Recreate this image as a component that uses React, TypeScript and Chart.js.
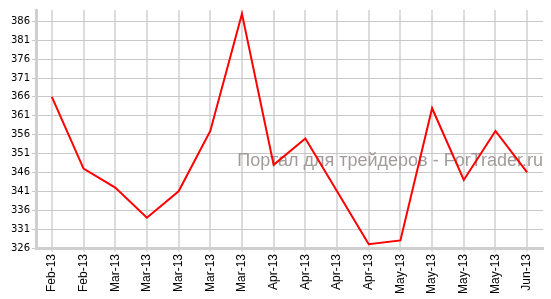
import React, { useEffect, useRef } from "react";
import { Chart, registerables } from "chart.js";

Chart.register(...registerables);

const categories = [
  "Feb-13", "Feb-13", "Mar-13", "Mar-13", "Mar-13", "Mar-13", "Mar-13",
  "Apr-13", "Apr-13", "Apr-13", "Apr-13", "May-13", "May-13", "May-13",
  "May-13", "Jun-13",
];
const values = [366, 347, 342, 334, 341, 357, 388, 348, 355, 341, 327, 328, 363, 344, 357, 346];
const yTicks = [326, 331, 336, 341, 346, 351, 356, 361, 366, 371, 376, 381, 386];
const watermark = "Портал для трейдеров - ForTrader.ru";

const watermarkPlugin = {
  id: "watermark",
  beforeDatasetsDraw(chart: any) {
    const { ctx, chartArea } = chart;
    ctx.save();
    ctx.font = "18px 'Liberation Sans', Arial, sans-serif";
    ctx.fillStyle = "#a39b9b";
    ctx.textAlign = "right";
    ctx.textBaseline = "alphabetic";
    ctx.fillText(watermark, chartArea.right, 166);
    ctx.restore();
  },
};

export default function App() {
  const ref = useRef<HTMLCanvasElement>(null);
  useEffect(() => {
    document.body.style.margin = "0";
    const chart = new Chart(ref.current!, {
      type: "line",
      data: {
        labels: categories,
        datasets: [
          {
            data: values,
            borderColor: "#ff0000",
            borderWidth: 2,
            pointRadius: 0,
            tension: 0,
            fill: false,
          },
        ],
      },
      options: {
        animation: false,
        responsive: false,
        maintainAspectRatio: false,
        layout: { padding: { top: 10, right: 8, left: 0, bottom: 0 } },
        plugins: { legend: { display: false }, tooltip: { enabled: false } },
        scales: {
          x: {
            offset: true,
            grid: {
              offset: false,
              color: "#dcdcdc",
              lineWidth: 2,
              drawTicks: true,
              tickLength: 4,
              tickColor: "#cccccc",
              tickWidth: 1,
            },
            border: { color: "#cfcfcf", width: 3 },
            ticks: {
              autoSkip: false,
              maxRotation: 90,
              minRotation: 90,
              padding: 2,
              color: "#000",
              font: { family: "'Liberation Sans', Arial, sans-serif", size: 12 },
            },
            afterFit(scale: any) {
              scale.height = 51;
            },
          },
          y: {
            min: 326,
            max: 389,
            afterBuildTicks(scale: any) {
              scale.ticks = yTicks.map((v) => ({ value: v }));
            },
            grid: {
              color: "#c8c8c8",
              lineWidth: 1,
              drawTicks: true,
              tickLength: 4,
              tickColor: "#c8c8c8",
            },
            border: { color: "#cfcfcf", width: 3 },
            ticks: {
              padding: 2,
              color: "#000",
              font: { family: "'DejaVu Sans', Verdana, sans-serif", size: 10 },
            },
            afterFit(scale: any) {
              scale.width = 36;
            },
          },
        },
      },
      plugins: [watermarkPlugin],
    });
    return () => chart.destroy();
  }, []);
  return (
    <div style={{ width: 551, height: 299 }}>
      <canvas ref={ref} width={551} height={299} style={{ display: "block" }} />
    </div>
  );
}
